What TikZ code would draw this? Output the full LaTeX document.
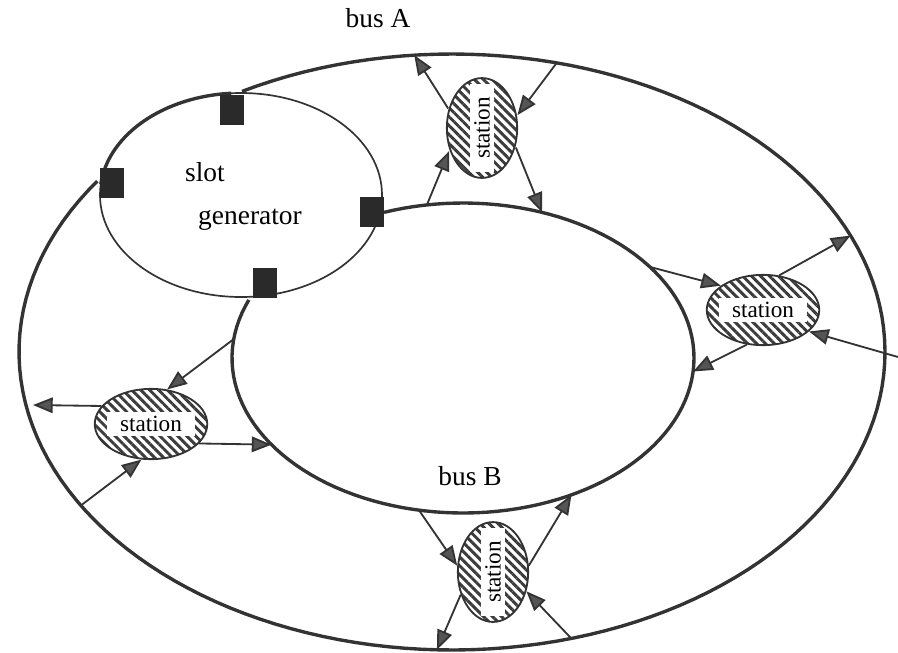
\documentclass[tikz,border=0pt]{standalone}
\usepackage{fontspec}
\setmainfont{Liberation Serif}
\usetikzlibrary{shapes.geometric, arrows.meta, patterns.meta}

\begin{document}
\begin{tikzpicture}[x=0.025cm, y=-0.025cm,
    bus/.style={draw=busColour, line width=2.4pt},
    link/.style={draw=busColour, line width=1.3pt, -{Triangle[length=14pt,width=11pt,fill=headColour]}},
    port/.style={fill=portColour, minimum width=17pt, minimum height=22pt, inner sep=0pt},
    station/.style={ellipse, draw=busColour, line width=1.3pt,
        pattern={Lines[angle=-45,distance=4.5pt,line width=2.1pt]}, pattern color=hatchColour,
        minimum width=80pt, minimum height=50pt, inner sep=0pt},
    vstation/.style={station, minimum width=50pt, minimum height=71pt},
    stationtext/.style={fill=white, inner xsep=9pt, inner ysep=3pt, font=\fontsize{16.5}{18}\selectfont},
    bigtext/.style={font=\fontsize{19.5}{22}\selectfont}
]
    % Define colors
    \definecolor{busColour}{HTML}{333333}
    \definecolor{headColour}{HTML}{555555}
    \definecolor{portColour}{HTML}{2A2A2A}
    \definecolor{hatchColour}{HTML}{3C3C3C}

    % Define ellipse sizes (generator, bus A outside, bus B inside)
    \def\gCx{241} \def\gCy{195} \def\gRx{141} \def\gRy{102}
    \def\aCx{452} \def\aCy{352} \def\aRx{433} \def\aRy{298}
    \def\bCx{463} \def\bCy{358} \def\bRx{231} \def\bRy{155}

    \useasboundingbox (0,0) rectangle (898,652);

    % Draw slot generator
    \draw[busColour, line width=1.2pt] (\gCx,\gCy) ellipse [x radius=\gRx, y radius=\gRy];
    \node[bigtext] (slot) at (205,172) {slot};
    \node[bigtext] (gen) at (250,220) {generator};

    % Draw buses (bus A runs on along the generator from the left port to the top port)
    \draw[bus] plot[domain=241:575, samples=150] ({\aCx+\aRx*cos(\x)},{\aCy+\aRy*sin(\x)});
    \draw[bus] plot[domain=186:266, samples=40] ({\gCx+\gRx*cos(\x)},{\gCy+\gRy*sin(\x)});
    \draw[bus] plot[domain=250:562, samples=120] ({\bCx+\bRx*cos(\x)},{\bCy+\bRy*sin(\x)});
    \node[bigtext] (busA) at (378,18) {bus A};
    \node[bigtext] (busB) at (470,476) {bus B};

    % Draw ports of the slot generator
    \node[port] (portTop) at (232,110) {};
    \node[port] (portLeft) at (112,183) {};
    \node[port] (portRight) at (372,212) {};
    \node[port] (portBottom) at (265,283) {};

    % Draw stations
    \node[vstation, label={[stationtext,rotate=90]center:station}] (stTop) at (482,128) {};
    \node[station, label={[stationtext]center:station}] (stRight) at (763,310) {};
    \node[station, label={[stationtext]center:station}] (stLeft) at (151,424) {};
    \node[vstation, label={[stationtext,rotate=90]center:station}] (stBottom) at (493,572) {};

    % Define points on the buses
    \foreach \n/\ang in {A1/265, A2/284, A3/337, A4/149, A5/92, A6/74}
        \coordinate (\n) at ({\aCx+\aRx*cos(\ang)},{\aCy+\aRy*sin(\ang)});
    \foreach \n/\ang in {B1/261, B2/290, B3/324, B4/5, B5/187, B6/146, B7/101, B8/62}
        \coordinate (\n) at ({\bCx+\bRx*cos(\ang)},{\bCy+\bRy*sin(\ang)});
    \coordinate (rightIn) at (898,357);
    \coordinate (leftOut) at (33,405);

    % Connect top station
    \draw[link] (stTop.150) -- (A1);
    \draw[link] (A2) -- (stTop.20);
    \draw[link] (B1) -- (stTop.215);
    \draw[link] (stTop.-30) -- (B2);

    % Connect right station
    \draw[link] (B3) -- (stRight.150);
    \draw[link] (stRight.65) -- (A3);
    \draw[link] (rightIn) -- (stRight.-25);
    \draw[link] (stRight.245) -- (B4);

    % Connect left station
    \draw[link] (B5) -- (stLeft.65);
    \draw[link] (stLeft.160) -- (leftOut);
    \draw[link] (stLeft.-22) -- (B6);
    \draw[link] (A4) -- (stLeft.255);

    % Connect bottom station
    \draw[link] (B7) -- (stBottom.170);
    \draw[link] (stBottom.215) -- (A5);
    \draw[link] (stBottom.10) -- (B8);
    \draw[link] (A6) -- (stBottom.-30);

\end{tikzpicture}
\end{document}
